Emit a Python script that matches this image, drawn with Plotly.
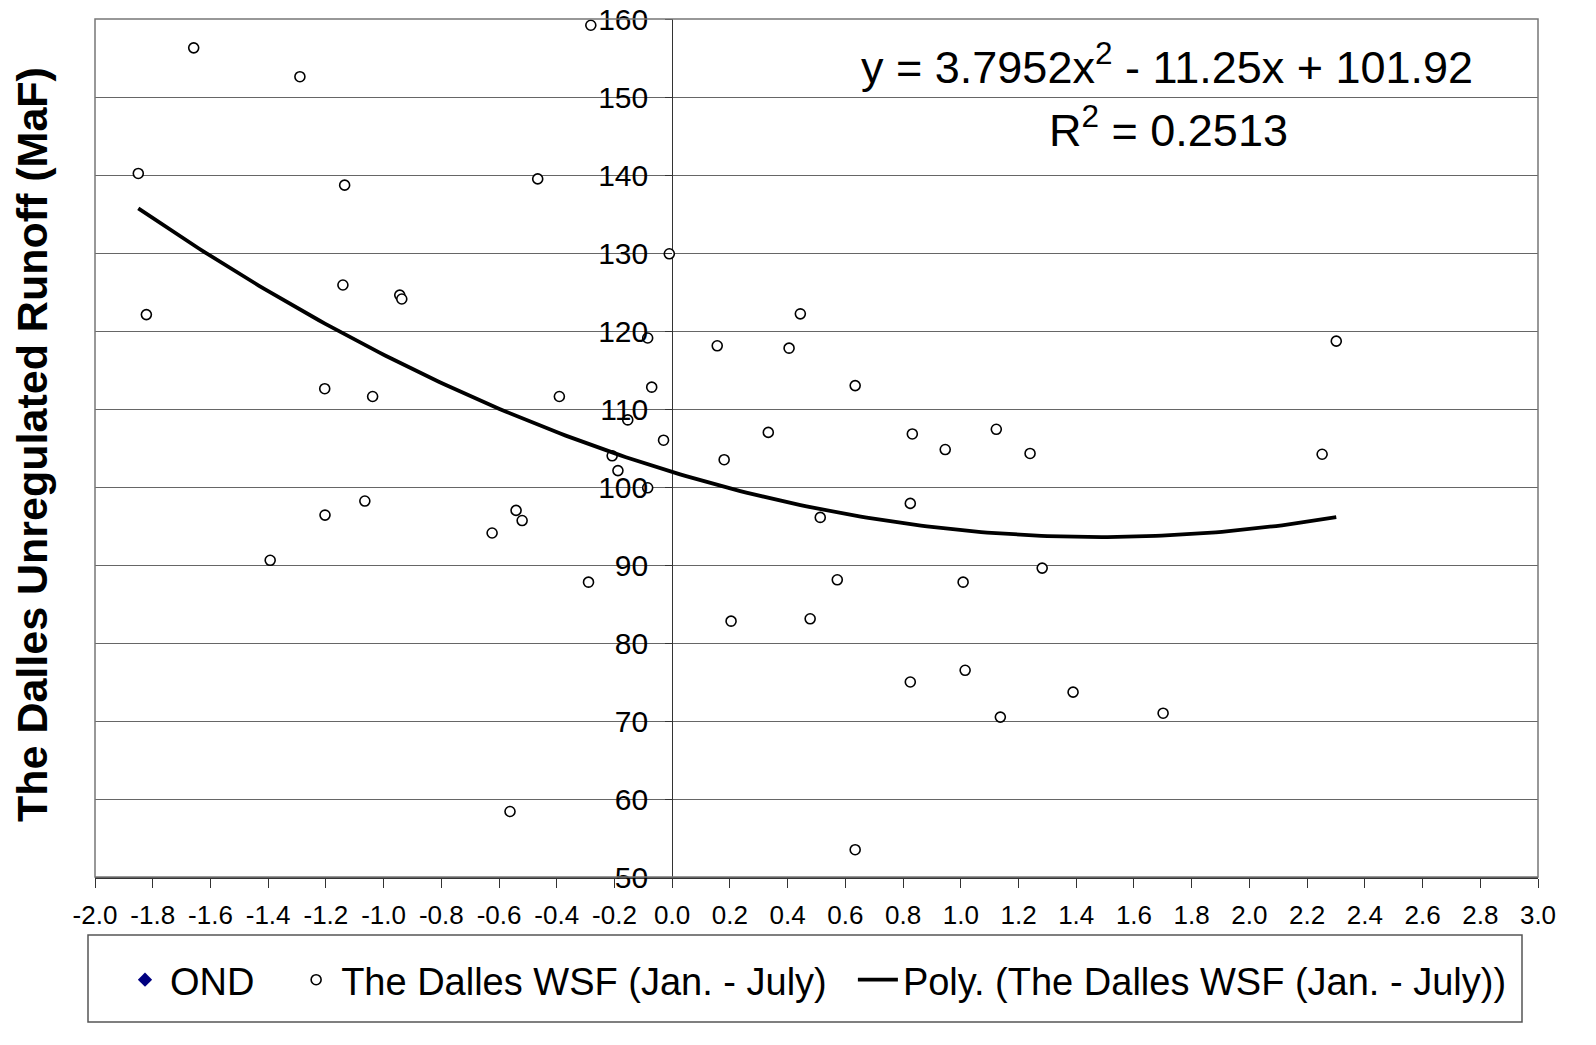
import numpy as np
import plotly.graph_objects as go

# ---- data ----
wsf_x = [-1.850, -1.822, -1.658, -1.290, -1.135, -1.141, -0.944, -0.937, -1.204, -1.038,
         -1.393, -1.203, -1.065, -0.624, -0.541, -0.520, -0.562, -0.466, -0.391, -0.290,
         -0.282, -0.208, -0.188, -0.154, -0.085, -0.071, -0.085, -0.030, -0.010, 0.156,
         0.180, 0.204, 0.333, 0.405, 0.444, 0.478, 0.513, 0.572, 0.634, 0.634,
         0.825, 0.825, 0.832, 0.946, 1.008, 1.015, 1.123, 1.137, 1.240, 1.282,
         1.389, 1.701, 2.252, 2.301]
wsf_y = [140.2, 122.1, 156.3, 152.6, 138.7, 125.9, 124.6, 124.1, 112.6, 111.6,
         90.6, 96.4, 98.2, 94.1, 97.0, 95.7, 58.4, 139.5, 111.6, 87.8,
         159.2, 104.0, 102.1, 108.6, 119.1, 112.8, 99.9, 106.0, 129.9, 118.1,
         103.5, 82.8, 107.0, 117.8, 122.2, 83.1, 96.1, 88.1, 113.0, 53.5,
         75.0, 97.9, 106.8, 104.8, 87.8, 76.5, 107.4, 70.5, 104.3, 89.6,
         73.7, 71.0, 104.2, 118.7]
# trendline coefficients as printed on the chart (a, b, c for a*x^2 + b*x + c)
poly_coeffs = [3.7952, -11.25, 101.92]
r_squared = "0.2513"

series_names = ["OND", "The Dalles WSF (Jan. - July)", "Poly. (The Dalles WSF (Jan. - July))"]
y_title = "The Dalles Unregulated Runoff (MaF)"
x_tick_vals = [-2.0, -1.8, -1.6, -1.4, -1.2, -1.0, -0.8, -0.6, -0.4, -0.2, 0.0,
               0.2, 0.4, 0.6, 0.8, 1.0, 1.2, 1.4, 1.6, 1.8, 2.0, 2.2, 2.4, 2.6, 2.8, 3.0]
x_tick_labels = ["-2.0", "-1.8", "-1.6", "-1.4", "-1.2", "-1.0", "-0.8", "-0.6", "-0.4", "-0.2", "0.0",
                 "0.2", "0.4", "0.6", "0.8", "1.0", "1.2", "1.4", "1.6", "1.8", "2.0", "2.2", "2.4",
                 "2.6", "2.8", "3.0"]
x_range = [-2.0, 3.0]
y_range = [50, 160]

# ---- figure ----
FONT = "Liberation Sans, Arial, sans-serif"
W, H = 1596, 1045
ml, mr, mt, mb = 95, 58, 19, 168
PW, PH = W - ml - mr, H - mt - mb


def px_x(p):
    return (p - ml) / PW


def px_y(p):
    return (H - mb - p) / PH


trend_x = np.linspace(min(wsf_x), max(wsf_x), 200)
trend_y = np.polyval(poly_coeffs, trend_x)

NB = "\u00a0"
fig = go.Figure()
fig.add_trace(go.Scatter(
    x=[None], y=[None], mode="markers", name=series_names[0] + NB * 3,
    marker=dict(symbol="diamond", size=11, color="#000080"),
))
fig.add_trace(go.Scatter(
    x=wsf_x, y=wsf_y, mode="markers", name=series_names[1] + NB * 2,
    marker=dict(symbol="circle", size=10, color="white",
                line=dict(color="black", width=1.6)),
))
fig.add_trace(go.Scatter(
    x=trend_x, y=trend_y, mode="lines", name=series_names[2],
    line=dict(color="black", width=3.8),
))

fig.update_layout(
    width=W, height=H,
    margin=dict(l=ml, r=mr, t=mt, b=mb, autoexpand=False),
    paper_bgcolor="white", plot_bgcolor="white",
    font=dict(family=FONT, color="black"),
    xaxis=dict(
        range=x_range, tickmode="array", tickvals=x_tick_vals, ticktext=x_tick_labels, tickangle=0,
        showgrid=False, zeroline=True, zerolinecolor="#333333", zerolinewidth=1.2,
        showline=True, linecolor="#333333", linewidth=2,
        ticks="outside", ticklen=9, tickcolor="#333333", tickwidth=1,
        tickfont=dict(family=FONT, size=26, color="black"),
        ticklabelstandoff=5, automargin=False,
    ),
    yaxis=dict(
        range=y_range, dtick=10, tick0=50,
        anchor="free", position=0.4,
        showgrid=True, gridcolor="#666666", gridwidth=1,
        zeroline=False, showline=False,
        ticks="outside", ticklen=7, tickcolor="#333333",
        tickfont=dict(family=FONT, size=30, color="black"),
        ticklabelstandoff=11, ticklabeloverflow="allow", automargin=False,
    ),
    showlegend=True,
    legend=dict(
        orientation="h", x=px_x(120), xanchor="left", y=px_y(980), yanchor="middle",
        borderwidth=0, bgcolor="rgba(0,0,0,0)",
        font=dict(family=FONT, size=38, color="black"),
        itemwidth=40, tracegroupgap=0,
    ),
    annotations=[
        dict(text="<b>" + y_title + "</b>", xref="paper", yref="paper",
             x=px_x(32), y=px_y(445),
             textangle=-90, showarrow=False, xanchor="center", yanchor="middle",
             font=dict(family=FONT, size=43, color="black")),
        dict(text="y = %gx<sup>2</sup> - %gx + %g" % (poly_coeffs[0], -poly_coeffs[1], poly_coeffs[2]),
             xref="paper", yref="paper", x=px_x(1167), y=px_y(64),
             showarrow=False, xanchor="center", yanchor="middle",
             font=dict(family=FONT, size=45, color="black")),
        dict(text="R<sup>2</sup> = " + r_squared,
             xref="paper", yref="paper", x=px_x(1168), y=px_y(127),
             showarrow=False, xanchor="center", yanchor="middle",
             font=dict(family=FONT, size=45, color="black")),
    ],
    shapes=[
        dict(type="rect", xref="paper", yref="paper", x0=0, x1=1, y0=0, y1=1,
             line=dict(color="#777777", width=1.5), layer="above"),
        dict(type="rect", xref="paper", yref="paper",
             x0=px_x(88), x1=px_x(1522), y0=px_y(1022), y1=px_y(935),
             line=dict(color="#555555", width=1.5), fillcolor="rgba(0,0,0,0)"),
    ],
)

fig.write_html("out.html", config={"displayModeBar": False},
               post_script="document.body.style.margin='0';document.body.style.overflow='hidden';")
